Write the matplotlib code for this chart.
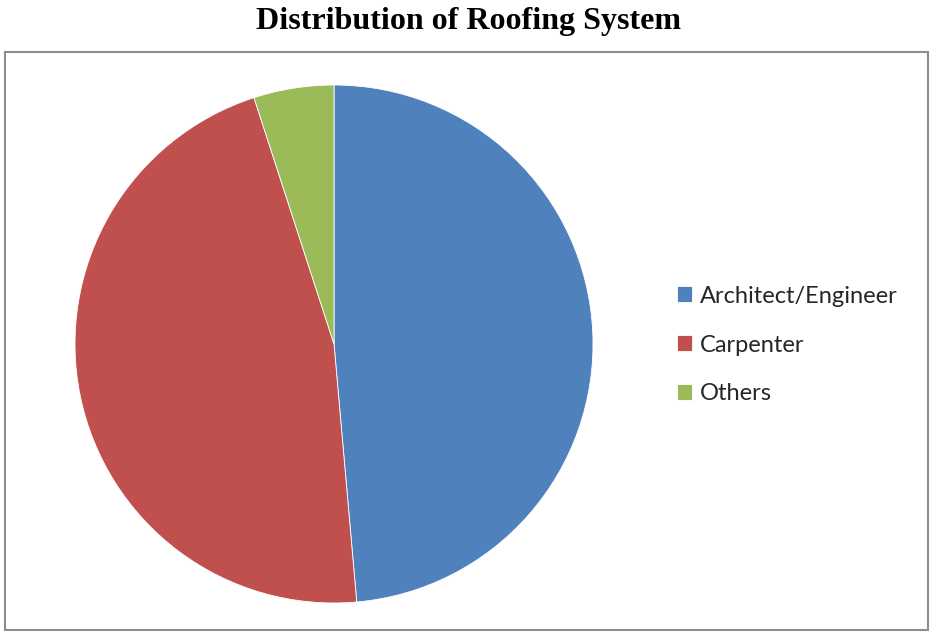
import matplotlib.pyplot as plt
from matplotlib.patches import Rectangle

labels = ['Architect/Engineer', 'Carpenter', 'Others']
shares = [48.6, 46.4, 5.0]
colors = ['#4F81BD', '#C0504D', '#9BBB59']

W, H = 931, 633
fig = plt.figure(figsize=(W / 100, H / 100), dpi=100)

# outer chart frame
fig.patches.append(Rectangle((5 / W, 1 - 630 / H), 923 / W, 578 / H,
                             transform=fig.transFigure, fill=False,
                             edgecolor='#8c8c8c', lw=1.5))

fig.text(469 / W, 1 - 21 / H, 'Distribution of Roofing System',
         ha='center', va='center', fontsize=23, fontweight='bold',
         family='Liberation Serif')

cx, cy, r = 334, 344, 259
ax = fig.add_axes([(cx - r) / W, 1 - (cy + r) / H, 2 * r / W, 2 * r / H])
wedges, _ = ax.pie(shares, colors=colors, startangle=90, counterclock=False,
                   radius=1, wedgeprops=dict(lw=0.6, edgecolor='white'))
ax.set_xlim(-1, 1)
ax.set_ylim(-1, 1)
ax.set_aspect('equal')
ax.axis('off')

fig.legend(wedges, labels, loc='center left',
           bbox_to_anchor=(677 / W, 1 - 345 / H), bbox_transform=fig.transFigure,
           frameon=False, prop={'family': 'Lato', 'size': 17},
           borderaxespad=0, borderpad=0,
           handlelength=0.65, handleheight=0.65, handletextpad=0.3,
           labelspacing=1.18, labelcolor='#262626')

fig.savefig('out.png', dpi=100)
